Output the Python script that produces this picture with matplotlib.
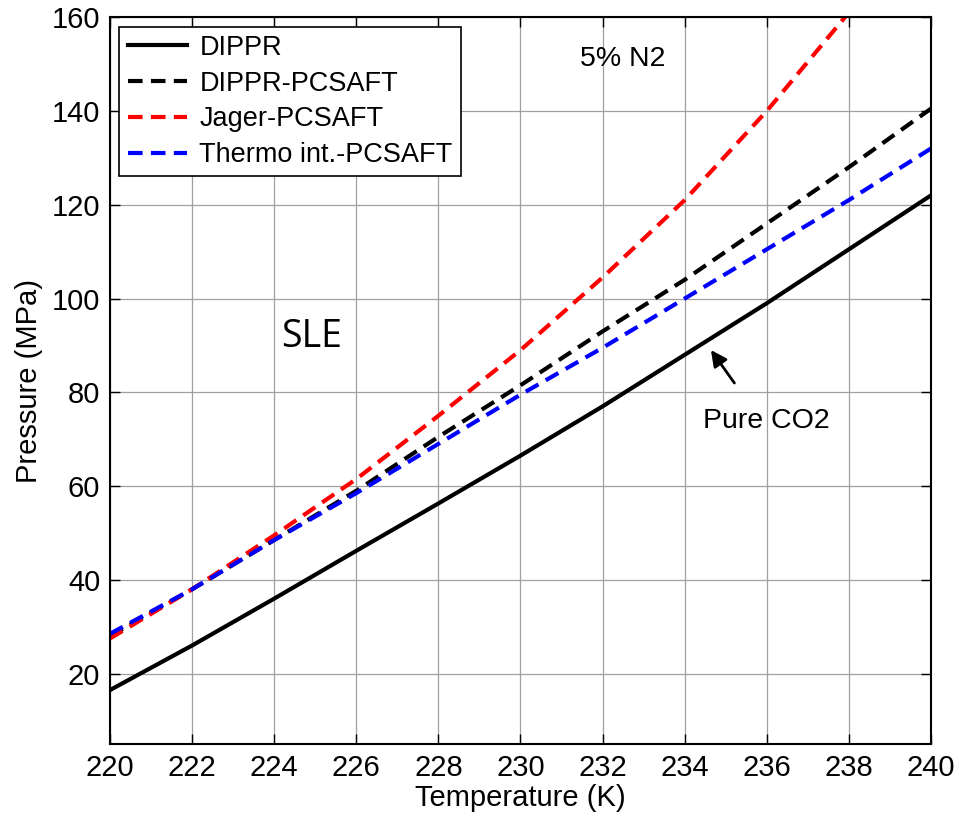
import matplotlib.pyplot as plt
import numpy as np

plt.rcParams['font.family'] = ['Liberation Sans', 'DejaVu Sans']

temps = [220, 222, 224, 226, 228, 230, 232, 234, 236, 238, 240]
dippr = [16.5, 26, 36, 46.2, 56.3, 66.5, 77, 88, 99, 110.5, 122]
dippr_pcsaft = [28, 38, 48.5, 59, 70.5, 81.5, 93, 104, 116, 128, 140.5]
jager_pcsaft = [27.5, 38, 49.5, 61.5, 75, 89, 104.5, 121, 140, 161, 183]
thermo_pcsaft = [28.5, 38, 48.5, 58.5, 69, 79.5, 89.5, 100, 110.5, 121, 132]

fig = plt.figure(figsize=(9.59, 8.19), dpi=100)
ax = fig.add_axes([0.1147, 0.0916, 0.8561, 0.8874])

ax.plot(temps, dippr, color='k', lw=3, label='DIPPR')
ax.plot(temps, dippr_pcsaft, color='k', lw=3, dashes=(3.5, 2), label='DIPPR-PCSAFT')
ax.plot(temps, jager_pcsaft, color='red', lw=3, dashes=(3.5, 2), label='Jager-PCSAFT')
ax.plot(temps, thermo_pcsaft, color='blue', lw=3, dashes=(3.5, 2), label='Thermo int.-PCSAFT')

ax.set_xlim(220, 240)
ax.set_ylim(5, 160)
ax.set_xticks(np.arange(220, 241, 2))
ax.set_yticks(np.arange(20, 161, 20))
ax.grid(True, color='#a0a0a0', lw=0.9)
ax.tick_params(direction='in', labelsize=21, length=7, width=1, pad=7, top=True, right=True)
for s in ax.spines.values():
    s.set_linewidth(1.5)

ax.set_xlabel('Temperature (K)', fontsize=21, labelpad=2)
ax.set_ylabel('Pressure (MPa)', fontsize=21, labelpad=6)

ax.text(224.9, 91.8, 'SLE', fontsize=27, ha='center', va='center',
        family=['Open Sans', 'DejaVu Sans'])
ax.text(232.5, 151, '5% N2', fontsize=20.5, ha='center', va='center')
ax.text(236, 73.8, 'Pure CO2', fontsize=20.5, ha='center', va='center')
ax.annotate('', xy=(234.6, 89.5), xytext=(235.25, 81.5),
            arrowprops=dict(arrowstyle='-|>', color='k', lw=2, mutation_scale=24))

leg = ax.legend(loc='upper left', fontsize=19.5, fancybox=False, framealpha=1,
                edgecolor='k', handlelength=2.2, borderaxespad=0.35,
                labelspacing=0.36, handletextpad=0.45, borderpad=0.3)
leg.get_frame().set_linewidth(1.2)

fig.savefig('out.png', dpi=100)
